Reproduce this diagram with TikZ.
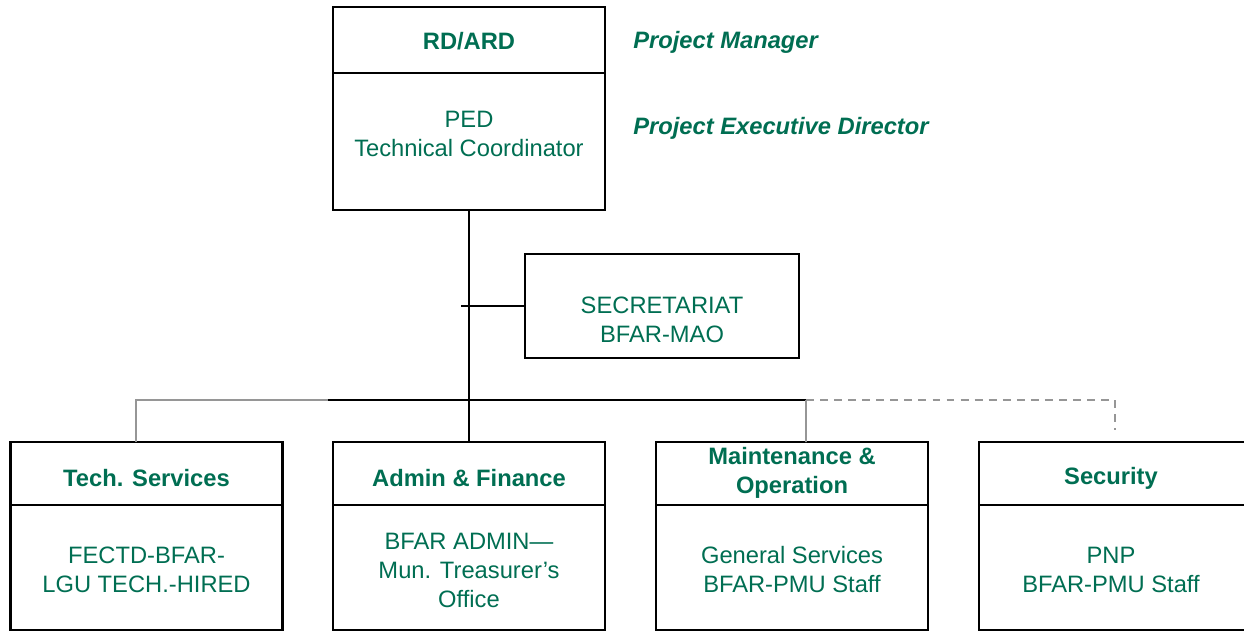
\documentclass[tikz,border=0pt]{standalone}
\usepackage{fontspec}
\setmainfont{Liberation Sans}
\usetikzlibrary{positioning}
\definecolor{orgGreen}{RGB}{0,110,82}
\definecolor{linkGray}{RGB}{150,150,150}

\begin{document}
\begin{tikzpicture}[
    x=0.02cm, y=-0.02cm,
    font=\fontsize{13.5}{16.5}\selectfont,
    % Unit Box Styles
    unitBox/.style={
        draw=black,
        line width=1.5pt,
        inner sep=0pt,
        outer sep=0pt,
        minimum width=5.44cm
    },
    headBox/.style={unitBox, minimum height=1.26cm},
    bodyBox/.style={unitBox, minimum height=2.5cm},
    % Text Styles
    boxText/.style={
        align=center,
        inner sep=0pt,
        text=orgGreen
    },
    headText/.style={boxText, font=\fontsize{13.5}{16.5}\selectfont\bfseries},
    roleText/.style={
        anchor=west,
        inner sep=0pt,
        text=orgGreen,
        font=\fontsize{13.5}{16.5}\selectfont\bfseries\itshape
    },
    % Connector Styles
    mainLink/.style={line width=1.2pt, draw=black},
    sideLink/.style={line width=1.1pt, draw=linkGray},
    dashLink/.style={sideLink, dash pattern=on 4.5pt off 3.5pt}
]

    \useasboundingbox (0,0) rectangle (1244,632);

    % Top Box: RD/ARD over PED
    \node[headBox, minimum height=1.32cm] (rdHead) at (469,40) {};
    \node[bodyBox, minimum height=2.74cm] (pedBody) at (469,141.5) {};
    \node[headText] (rdText) at (469,41) {RD/ARD};
    \node[boxText] (pedText) at (469,133.5) {PED\\Technical Coordinator};

    % Role Labels
    \node[roleText] (pmRole) at (633,42) {Project Manager};
    \node[roleText] (pedRole) at (633,128) {Project Executive Director};

    % Secretariat
    \node[unitBox, minimum width=5.48cm, minimum height=2.08cm] (secBox) at (662,306) {};
    \node[boxText] (secText) at (662,320) {SECRETARIAT\\BFAR-MAO};

    % Bottom Units: headers
    \node[headBox] (techHead) at (146.5,473.5) {};
    \node[headBox] (adminHead) at (469,473.5) {};
    \node[headBox] (maintHead) at (792,473.5) {};
    \node[headBox] (secuHead) at (1115,473.5) {};

    % Bottom Units: bodies
    \node[bodyBox, below=0pt of techHead] (techBody) {};
    \node[bodyBox, below=0pt of adminHead] (adminBody) {};
    \node[bodyBox, below=0pt of maintHead] (maintBody) {};
    \node[bodyBox, below=0pt of secuHead] (secuBody) {};

    % Bottom Units: texts
    \node[headText] (techTitle) at (146.5,478) {Tech. Services};
    \node[headText] (adminTitle) at (469,478) {Admin \& Finance};
    \node[headText] (maintTitle) at (792,473) {Maintenance \&\\Operation};
    \node[headText] (secuTitle) at (1111,478) {Security};

    \node[boxText] (techStaff) at (146.5,570) {FECTD-BFAR-\\LGU TECH.-HIRED};
    \node[boxText] (adminStaff) at (469,570) {BFAR ADMIN---\\Mun. Treasurer's\\Office};
    \node[boxText] (maintStaff) at (792,570) {General Services\\BFAR-PMU Staff};
    \node[boxText] (secuStaff) at (1111,570) {PNP\\BFAR-PMU Staff};

    % Bus Coordinates
    \coordinate (secTap) at (461,306);
    \coordinate (busL) at (328,400);
    \coordinate (busR) at (806,400);
    \coordinate (dashEnd) at (1115,430);

    % Main Trunk
    \draw[mainLink] (pedBody.south) -- (adminHead.north);
    \draw[mainLink] (secTap) -- (secBox.west);
    \draw[mainLink] (busL) -- (busR);

    % Gray Branches
    \draw[sideLink] ([xshift=-0.21cm]techHead.north) |- (busL);
    \draw[sideLink] (busR) -- ([xshift=0.28cm]maintHead.north);
    \draw[dashLink] (busR) -| (dashEnd);

\end{tikzpicture}
\end{document}
